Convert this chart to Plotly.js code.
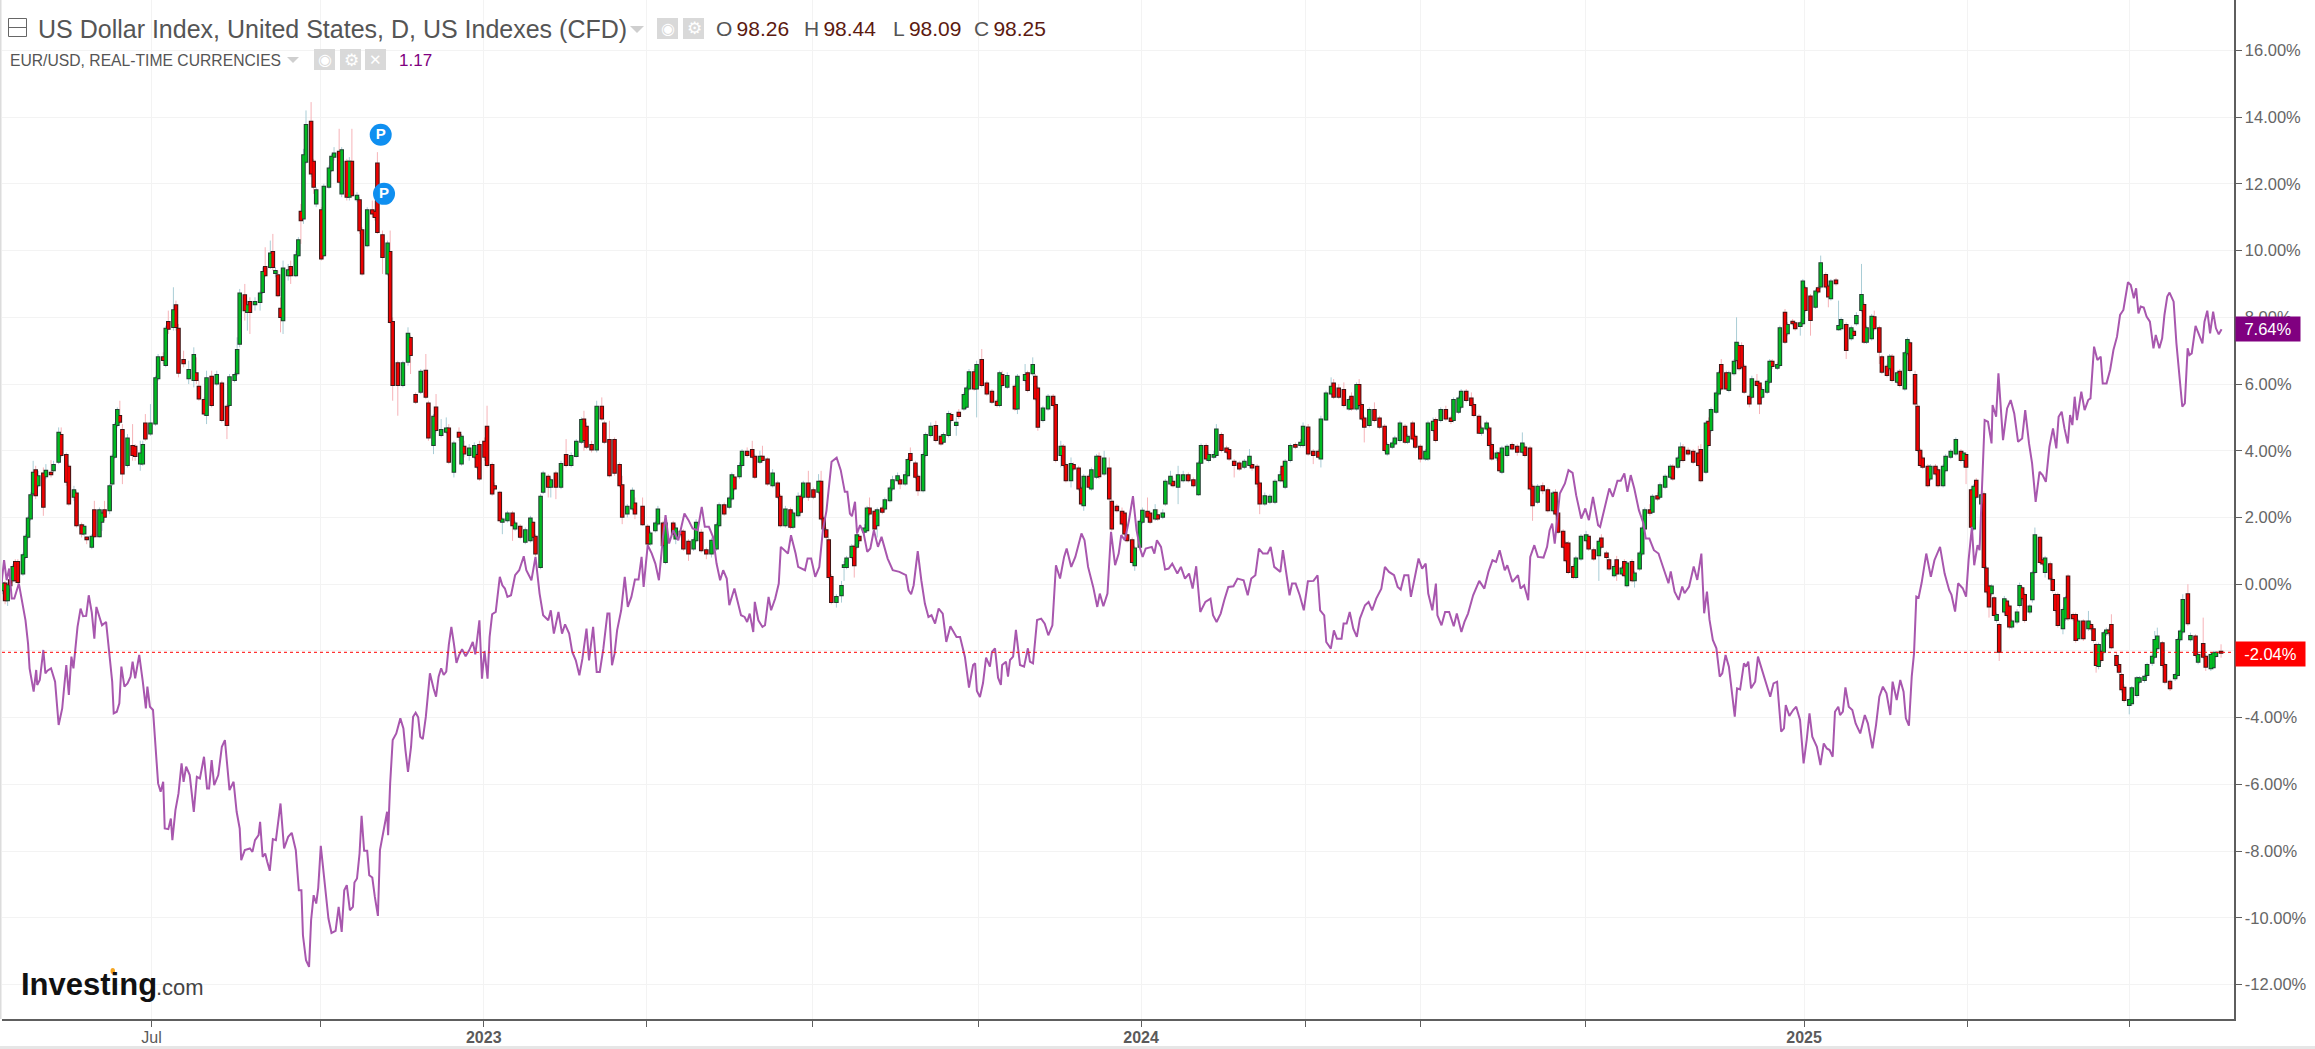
<!DOCTYPE html>
<html><head><meta charset="utf-8">
<script src="https://cdn.plot.ly/plotly-3.0.1.min.js"></script>
<style>html,body{margin:0;padding:0;background:#e6e6e6;}#chart{width:2315px;height:1049px;background:#fff;}</style>
</head><body><div id="chart"></div>
<script>
// Rows: [session, open, close, high, low] in percent change
const candles2022 = [
[1,-.18,.02,.2,-.3],[2,.02,-.48,.1,-.6],[3,-.48,-.03,.05,-.65],[4,.12,-.03,.2,-.1],[5,.12,.52,.6,.05],[6,.67,.12,.75,.05],[7,.67,.07,.75,0],[9,.32,.87,.95,.25],[10,.82,1.42,1.5,.75],[11,1.42,1.97,2.05,1.35],
[12,1.97,2.67,2.75,1.9],[13,2.72,3.34,3.7,2.65],[14,3.42,2.67,3.55,2.55],[15,2.97,3.24,3.4,2.9],[17,3.32,2.32,3.5,2.05],[18,3.24,3.4,3.6,3.15],[20,3.34,3.3,3.72,3.2],[21,3.42,3.57,3.7,3.35],[23,3.67,4.54,4.7,3.6],[24,4.47,3.87,4.7,3.8],
[26,3.87,3.07,3.95,2.95],[27,3.52,2.42,3.6,2.35],[29,2.62,2.82,2.95,2.5],[30,2.72,1.77,2.8,1.7],[32,1.77,1.52,1.85,1.4],[33,1.52,1.72,1.8,1.45],[34,1.4,1.35,1.42,1.2],[36,1.12,1.42,1.5,1.05],[37,2.22,1.44,2.5,1.4],[39,1.44,2.22,2.3,1.4],
[40,1.87,2.12,2.2,1.6],[41,2.22,2.02,2.5,1.9],[43,2.22,2.94,3.0,2.1],[44,3.02,3.82,3.9,2.95],[45,3.82,4.77,4.85,3.75],[46,4.77,5.22,5.3,4.7],[47,5.04,4.87,5.5,4.8],[48,4.62,3.32,4.8,3.0],[50,3.57,4.37,4.5,3.5],[52,4.14,3.87,4.8,3.7],
[53,4.12,3.84,4.2,3.7],[55,3.62,3.92,4.3,3.4],[56,3.62,4.17,4.3,3.55],[57,4.82,4.37,5.1,4.3],[59,4.52,4.82,5.4,4.45],[61,4.82,6.17,6.25,4.75],[62,6.17,6.8,6.9,6.1],[64,6.8,6.72,6.95,6.6],[65,6.57,7.66,7.75,6.5],[66,7.86,7.66,8.2,7.5],
[68,7.71,8.21,8.9,7.6],[69,8.36,7.71,8.5,7.6],[70,7.66,6.34,7.8,6.2],[72,6.72,6.62,7.0,6.5],[74,6.17,6.42,6.7,6.0],[76,6.12,6.87,7.1,5.9],[77,6.32,6.12,6.8,6.0],[78,5.92,5.57,6.1,5.5],[80,5.52,5.12,5.6,5.05],[81,5.07,6.17,6.4,4.8],
[83,6.22,5.37,6.4,5.3],[85,6.02,6.27,6.4,5.95],[87,6.02,4.92,6.1,4.85],[89,5.32,4.77,5.4,4.35],[90,5.37,6.2,6.3,5.3],[92,6.12,6.27,6.35,6.05],[93,6.32,7.02,7.4,6.25],[94,7.21,8.71,8.85,7.1],[96,8.66,8.21,9.0,7.9],[97,8.16,8.36,8.5,7.6],
[98,8.46,8.16,8.6,7.5],[100,8.39,8.46,8.6,8.2],[102,8.46,8.71,8.8,8.2],[103,8.76,9.36,9.5,8.7],[104,9.51,9.26,10.1,9.2],[106,9.51,9.91,10.3,9.45],[107,9.96,9.51,10.5,9.4],[108,9.33,9.39,9.5,9.2],[109,9.26,8.66,9.4,8.6],[110,8.26,8.01,8.6,7.55],
[111,7.91,9.46,9.7,7.5],[113,9.26,9.41,9.6,9.1],[114,9.51,9.26,9.7,9.0],[116,9.26,9.86,10.0,9.2],[117,9.86,10.31,10.4,9.8],[118,11.16,10.91,11.4,10.2],[119,10.96,12.86,13.05,10.8],[120,12.66,13.76,14.2,12.6],[122,13.86,12.31,14.45,12.2],[123,12.66,11.91,12.75,11.7],
[124,11.41,11.81,11.9,11.3],[126,11.21,9.76,11.3,9.7],[127,9.86,11.91,12.0,9.8],[129,11.91,12.46,12.55,11.85],[130,12.41,12.81,12.9,12.35],[131,12.81,12.91,13.1,12.7],[133,12.96,12.06,13.65,12.0],[134,11.71,13.01,13.1,11.6],[136,12.66,11.61,12.75,11.5],[137,11.61,12.66,12.8,11.5],
[138,12.66,11.66,13.65,11.6],[140,11.54,11.64,11.75,11.45],[141,11.51,10.61,11.6,10.5],[142,10.61,9.31,10.7,9.25],[144,10.16,11.21,11.3,10.1],[146,11.21,11.11,11.5,11.0],[147,11.16,11.01,11.5,10.9],[148,12.61,10.56,12.95,10.5],[150,10.46,9.81,10.6,9.3],[152,9.31,10.21,10.3,9.25],
[153,9.96,7.86,10.6,7.8],[154,7.86,5.97,8.0,5.5],[156,6.62,5.97,6.7,5.05],[158,5.97,6.62,6.7,5.9],[160,6.67,7.51,7.7,6.55],[161,7.38,6.87,7.45,6.3],[163,5.67,5.47,5.75,5.4],[165,5.77,6.37,6.45,5.7],[167,6.4,5.62,6.9,5.55],[168,5.42,4.4,5.5,4.3],
[170,4.17,5.02,5.1,3.9],[171,5.3,4.62,5.7,4.55],[173,4.47,4.62,4.95,4.4],[175,4.57,4.67,5.0,4.5],[176,4.67,3.67,4.8,3.6],[178,3.37,4.22,4.3,3.2],[180,4.54,4.42,4.7,4.3],[181,3.62,4.42,4.5,3.55],[182,4.12,3.92,4.3,3.8],[184,3.87,4.07,4.2,3.7],
[186,3.82,4.14,4.25,3.75],[187,3.87,3.52,3.95,3.45],[188,4.17,3.17,4.3,3.1]];
const candles2023 = [
[190,4.27,3.82,4.4,3.7],[191,4.72,3.57,5.35,3.5],[193,3.57,2.72,3.65,2.65],[194,2.94,2.87,3.05,2.8],[196,2.74,1.92,2.8,1.85],[197,1.87,1.94,2.0,1.5],[199,1.92,2.12,2.2,1.85],[201,2.12,1.77,2.2,1.3],[202,1.67,1.82,1.9,1.6],[204,1.72,1.42,1.8,1.35],
[206,1.27,1.62,1.7,1.2],[208,1.32,1.97,2.05,1.25],[209,1.84,1.42,1.9,1.3],[210,1.42,.92,1.5,.85],[212,.52,2.62,2.7,.45],[213,2.77,3.32,3.4,2.7],[215,3.22,2.92,3.3,2.6],[216,2.92,3.12,3.2,2.6],[218,3.32,2.92,3.4,2.55],[220,2.92,3.6,3.7,2.85],
[222,3.87,3.57,4.35,3.5],[224,3.57,3.84,3.95,3.5],[226,3.84,4.27,4.35,3.8],[228,4.27,4.92,5.0,4.2],[229,4.94,4.32,5.2,4.0],[230,4.72,4.12,4.85,4.05],[232,4.17,4.04,4.3,3.95],[234,4.04,5.32,5.5,3.95],[236,5.32,4.97,5.6,4.9],[237,4.82,4.27,4.9,4.2],
[239,4.32,3.27,4.9,3.2],[241,4.32,3.34,4.4,3.25],[243,3.57,2.97,3.65,2.9],[244,2.97,2.02,3.25,1.8],[246,2.12,2.32,2.4,2.0],[248,2.27,2.8,2.9,2.2],[249,2.42,2.12,2.6,1.95],[252,2.32,1.8,2.6,1.75],[254,1.72,1.22,1.8,1.15],[255,1.22,1.52,1.6,1.15],
[257,1.62,1.82,1.9,1.55],[258,1.82,2.24,2.35,1.75],[260,1.82,1.17,1.9,1.1],[261,.67,1.82,2.0,.6],[264,1.82,1.52,1.9,1.4],[265,1.37,1.67,1.8,1.2],[267,1.57,1.5,1.65,1.4],[268,1.57,1.07,1.65,1.0],[270,1.27,.92,1.35,.7],[272,1.07,1.32,1.4,1.0],
[273,1.32,1.84,1.95,1.25],[275,1.54,1.02,1.65,.95],[277,1.02,.92,1.1,.75],[279,.92,1.3,1.4,.8],[281,1.07,1.77,1.85,1.0],[282,1.77,2.37,2.45,1.7],[284,2.37,2.12,2.45,2.05],[286,2.32,2.57,2.65,2.25],[287,2.57,3.27,3.35,2.5],[288,3.2,2.87,3.3,2.8],
[290,3.24,3.54,3.65,3.15],[291,3.57,3.97,4.05,3.5],[293,3.97,3.87,4.1,3.8],[295,4.02,3.82,4.3,3.75],[296,3.82,3.22,3.9,3.15],[298,3.67,3.82,4.0,3.6],[299,3.82,3.72,4.15,3.65],[301,3.74,3.02,3.8,2.95],[303,2.97,3.32,3.45,2.9],[305,3.02,2.62,3.1,2.55],
[306,2.62,1.77,2.7,1.7],[308,1.77,2.24,2.35,1.7],[310,2.22,1.72,2.3,1.65],[311,1.72,2.12,2.2,1.65],[313,2.07,2.62,2.75,2.0],[314,2.62,2.17,2.7,2.1],[315,2.62,3.02,3.1,2.55],[317,3.02,2.62,3.4,2.5],[319,2.82,2.62,2.9,2.55],[321,2.77,3.07,3.3,2.7],
[322,3.07,1.97,3.4,1.9],[323,1.97,1.67,2.05,1.6],[324,1.62,1.42,1.7,1.35],[325,1.32,.22,1.4,.15],[326,.22,-.53,.3,-.6],[328,-.53,-.38,-.3,-.7],[330,-.33,-.05,.1,-.55],[331,.52,.57,.7,.1],[332,.52,.77,.85,.45],[334,.82,1.12,1.2,.75],
[335,1.12,.57,1.2,.2],[336,1.12,1.47,1.55,1.05],[337,1.42,1.32,1.5,1.2],[339,1.57,1.67,1.8,1.5],[340,1.62,2.27,2.35,1.55],[341,2.27,2.12,2.6,2.05],[343,2.17,1.67,2.25,1.6],[344,1.77,2.22,2.3,1.4],[346,2.27,2.17,2.35,2.1],[347,2.27,2.52,2.6,2.2],
[349,2.52,2.87,2.95,2.45],[350,2.87,3.12,3.25,2.8],[352,3.12,3.24,3.35,3.05],[353,3.12,3.02,3.2,2.85],[355,3.02,3.27,3.4,2.95],[356,3.27,3.72,3.8,3.2],[357,3.9,3.72,4.1,3.65],[359,3.62,3.22,3.7,3.15],[360,3.22,2.82,3.3,2.65],[362,2.82,3.87,3.95,2.75],
[363,3.87,4.47,4.55,3.8],[365,4.47,4.72,4.85,4.4],[367,4.74,4.32,4.9,4.25],[369,4.42,4.22,4.5,4.15],[370,4.27,4.47,4.55,4.2],[372,4.47,5.1,5.2,4.4],[373,5.07,4.92,5.15,4.85],[375,4.77,4.84,5.0,4.45],[376,5.14,5.04,5.25,4.95],[378,5.27,5.67,5.75,5.2],
[379,5.32,5.87,5.95,5.25],[380,5.87,6.35,6.45,5.8],[382,6.35,5.87,6.45,5.8],[383,5.87,6.57,6.7,5.0],[385,6.72,5.97,7.05,5.9],[387,6.02,5.72,6.1,5.65],[389,5.77,5.47,5.85,5.4],[391,5.47,5.37,5.55,5.3],[392,5.37,6.32,6.4,5.3],[393,6.27,5.97,6.4,5.9],
[395,5.92,6.24,6.35,5.85],[398,5.92,5.27,6.0,5.2],[399,5.27,6.22,6.3,5.1],[402,6.12,6.27,6.6,6.05],[403,6.32,5.82,6.4,5.75],[405,6.32,6.57,6.8,6.25],[406,6.22,5.57,6.3,5.5],[407,5.87,4.72,5.95,4.6],[409,4.92,5.27,5.35,4.85],[411,5.27,5.62,5.7,5.2],
[413,5.62,5.37,5.7,5.3],[414,5.37,3.72,5.45,3.65],[416,3.87,4.12,4.3,3.5],[417,4.12,3.57,4.2,3.5],[418,3.57,3.12,3.65,3.05],[420,3.12,3.6,3.8,2.9],[421,3.57,3.47,3.65,3.4],[423,3.47,2.87,3.55,2.8],[424,2.87,2.42,2.95,2.35],[425,2.37,3.22,3.3,2.2],
[427,3.22,2.92,3.3,2.85],[428,2.87,3.42,3.5,2.8],[430,3.22,3.82,3.9,3.15],[431,3.82,3.24,3.95,3.15],[433,3.32,3.77,4.0,3.25],[435,3.47,2.57,3.8,2.5],[436,2.47,1.67,2.55,1.6],[438,2.32,2.22,2.4,2.15],[440,2.17,1.82,2.3,1.75],[441,2.12,1.52,2.2,1.45],
[442,1.47,1.32,1.55,1.25],[444,1.32,.67,1.4,.6],[445,.57,1.07,1.15,.4],[447,1.12,1.87,1.95,1.05]];
const candles2024 = [
[448,1.87,2.2,2.3,1.8],[450,2.17,2.02,2.6,1.95],[451,2.12,1.87,2.2,1.8],[453,1.97,2.22,2.4,1.9],[454,2.07,1.97,2.25,1.9],[456,2.02,2.12,2.25,1.95],[457,2.42,3.07,3.15,2.35],[459,3.02,3.22,3.4,2.95],[460,3.07,2.97,3.2,2.9],[462,2.92,3.27,3.55,2.4],
[464,3.12,3.27,3.4,3.05],[466,3.27,3.12,3.35,3.05],[468,3.12,2.97,3.2,2.9],[470,2.7,3.62,3.7,2.65],[471,3.64,4.14,4.22,3.6],[473,4.14,3.77,4.22,3.7],[474,3.72,3.87,3.95,3.65],[476,3.82,3.87,4.0,3.75],[477,3.87,4.64,4.8,3.8],[479,4.47,4.02,4.55,3.95],
[481,4.07,3.97,4.15,3.9],[482,4.02,3.77,4.1,3.7],[484,3.67,3.57,3.75,3.2],[486,3.62,3.47,3.7,3.4],[488,3.52,3.67,3.75,3.45],[490,3.57,3.82,4.05,3.5],[491,3.57,3.5,3.65,3.4],[493,3.52,3.02,3.6,2.9],[494,3.02,2.42,3.1,2.1],[496,2.42,2.64,2.75,2.35],
[498,2.47,2.62,2.7,2.4],[500,2.47,3.07,3.15,2.4],[502,3.12,3.27,3.4,3.05],[503,3.52,3.12,3.7,3.05],[504,2.92,3.67,3.75,2.85],[506,3.72,4.14,4.22,3.65],[508,4.17,4.12,4.25,4.05],[510,4.17,4.24,4.35,4.1],[511,4.17,4.72,4.85,4.1],[513,4.7,3.92,4.8,3.85],
[515,3.97,3.87,4.05,3.6],[517,3.97,3.82,4.05,3.75],[518,3.77,4.94,5.05,3.5],[520,4.94,5.72,5.8,4.9],[522,5.72,5.92,6.2,5.65],[523,6.02,5.62,6.15,5.55],[525,5.87,5.62,6.0,5.55],[527,5.82,5.37,6.05,5.3],[529,5.27,5.52,5.6,5.2],[530,5.62,5.27,5.75,5.2],
[532,5.27,5.97,6.05,5.2],[533,5.97,5.37,6.15,5.3],[534,5.37,4.97,5.45,4.9],[535,4.97,4.72,5.05,4.25],[537,4.77,5.22,5.3,4.7],[539,5.22,4.92,5.45,4.85],[541,4.97,4.72,5.05,4.65],[543,4.72,4.02,4.8,3.95],[544,3.92,4.17,4.25,3.85],[546,4.12,4.22,4.3,4.05],
[547,4.22,4.37,4.45,4.15],[549,4.32,4.82,4.9,4.25],[551,4.72,4.27,4.8,4.2],[552,4.27,4.42,4.5,4.2],[554,4.82,4.37,4.9,4.3],[555,4.42,4.12,4.5,4.05],[557,4.12,3.77,4.2,3.65],[559,3.77,3.97,4.05,3.7],[560,3.77,4.82,4.9,3.7],[562,4.62,4.87,5.0,4.55],
[563,4.92,4.32,5.0,4.25],[565,4.92,5.22,5.3,4.85],[567,5.22,4.97,5.35,4.9],[569,4.97,4.89,5.05,4.8],[570,4.92,5.52,5.6,4.85],[572,5.17,5.57,5.65,5.1],[573,5.32,5.77,5.85,5.25],[575,5.77,5.52,5.85,5.45],[577,5.57,5.37,5.75,5.3],[578,5.37,5.07,5.45,5.0],
[580,5.02,4.54,5.1,4.5],[581,4.54,4.67,4.75,4.45],[583,4.67,4.82,4.9,4.6],[584,4.67,4.17,4.75,4.1],[585,4.17,3.77,4.25,3.7],[587,3.8,3.92,4.0,3.7],[588,3.92,3.42,4.0,3.35],[589,3.37,4.07,4.15,3.3],[591,3.87,4.12,4.2,3.8],[593,4.17,4.07,4.25,4.0],
[595,4.12,3.97,4.2,3.85],[597,3.97,4.22,4.55,3.9],[598,4.1,3.87,4.2,3.8],[600,4.07,2.87,4.15,2.8],[601,2.92,2.37,3.0,1.9],[603,2.47,2.92,3.0,2.4],[605,2.94,2.82,3.05,2.7],[607,2.82,2.22,2.9,2.15],[609,2.22,2.72,2.8,2.15],[610,2.74,2.12,2.85,2.05],
[611,2.12,1.57,2.2,1.5],[613,1.57,1.12,1.65,1.05],[614,1.22,.72,1.3,.65],[615,1.22,.37,1.3,.3],[617,.52,.22,.6,.15],[618,.22,.77,.85,.15],[620,.77,1.42,1.5,.7],[622,1.32,1.47,1.6,1.25],[623,1.42,1.07,1.5,1.0],[625,1.02,.77,1.1,.7],
[627,.87,1.27,1.35,.1],[628,1.37,1.12,1.5,1.05],[630,.92,.82,1.0,.75],[631,.72,.47,.8,.4],[633,.27,.52,.6,.2],[634,.72,.32,.85,.1],[636,.32,.47,.55,.25],[637,.67,.27,.75,.2],[638,-.03,.62,.7,-.1],[640,.67,.12,.75,.05],
[641,.12,.32,.4,-.1],[643,.47,.92,1.0,.4],[644,.92,1.67,1.75,.85],[645,1.67,2.22,2.3,1.6],[647,2.22,2.14,2.4,2.05],[648,2.17,2.62,2.7,2.1],[650,2.64,2.57,2.75,2.5],[651,2.62,2.97,3.05,2.55],[653,2.92,3.22,3.3,2.85],[655,3.22,3.52,3.6,3.15],
[656,3.52,3.17,3.6,3.1],[658,3.52,3.77,3.85,3.45],[659,3.72,4.1,4.25,3.65],[660,4.1,3.72,4.2,3.65],[662,4.0,3.92,4.1,3.85],[664,3.97,3.67,4.05,3.6],[666,3.92,3.57,4.15,3.5],[667,4.02,3.12,4.2,3.05],[669,3.37,4.82,4.9,3.3],[670,4.87,4.17,5.0,4.1],
[671,4.62,5.22,5.3,4.55],[673,5.17,5.72,5.8,5.1],[674,5.72,6.32,6.4,5.65],[675,6.57,5.87,6.75,5.8],[677,6.32,5.87,6.4,5.8],[678,5.82,6.32,6.4,5.75],[680,6.32,6.67,6.75,6.25],[681,6.72,7.24,8.0,6.65],[682,7.14,6.47,7.25,6.4],[683,7.14,6.52,7.25,6.45],
[684,6.52,5.77,6.6,5.7],[686,5.62,5.42,5.7,5.3],[687,5.62,6.14,6.25,5.55],[689,6.07,5.97,6.3,5.9],[690,6.02,5.42,6.1,5.1],[691,5.62,5.82,5.9,5.55],[693,5.77,6.07,6.15,5.7],[694,6.07,6.67,6.75,6.0],[695,6.67,6.54,6.75,6.45],[697,6.49,6.57,6.65,6.42],
[698,6.57,7.67,7.75,6.5],[700,8.14,7.27,8.25,7.2],[701,7.52,7.77,7.85,7.45],[703,7.87,7.82,7.95,7.75],[704,7.82,7.67,7.9,7.6],[706,7.74,7.82,7.9,7.45]];
const candles2025 = [
[707,7.82,9.07,9.15,7.75],[708,8.87,8.22,8.95,8.15],[710,8.62,7.92,8.7,7.45],[712,8.32,8.77,8.85,8.25],[713,8.87,8.77,8.95,8.7],[714,8.92,9.62,9.85,8.85],[716,9.27,8.92,9.35,8.85],[717,8.92,8.62,9.0,8.3],[718,8.57,9.07,9.15,8.5],[720,9.1,9.02,9.18,8.95],
[721,7.64,7.74,8.5,7.6],[722,7.67,7.92,8.0,7.6],[724,7.77,7.02,7.85,6.75],[726,7.37,7.67,7.75,7.3],[727,7.57,7.47,7.65,7.4],[728,7.82,8.04,8.15,7.75],[730,8.22,8.67,9.6,8.15],[731,8.37,7.27,8.45,7.2],[732,7.27,7.67,7.75,7.2],[734,7.37,8.02,8.1,7.3],
[735,8.0,7.67,8.2,7.6],[737,7.67,6.97,7.75,6.6],[738,6.8,6.37,6.88,6.3],[740,6.52,6.27,6.6,6.2],[741,6.47,6.82,6.9,6.4],[742,6.82,6.12,6.9,6.05],[744,6.07,6.32,6.4,6.0],[745,6.37,5.97,6.45,5.9],[747,5.87,6.92,7.0,5.8],[748,6.92,7.32,7.4,6.85],
[749,7.22,6.42,7.3,6.35],[751,6.27,5.42,6.4,5.35],[752,5.32,4.02,5.4,3.95],[753,4.0,3.57,4.08,3.5],[754,3.77,3.52,3.85,3.45],[756,3.52,2.97,3.6,2.9],[757,3.17,3.52,3.6,3.1],[759,3.52,3.32,3.6,3.25],[760,3.42,2.97,3.5,2.9],[762,2.97,3.52,3.6,2.9],
[763,3.42,3.82,3.9,3.35],[765,3.82,3.97,4.05,3.75],[767,3.92,4.32,4.4,3.85],[769,3.97,3.72,4.05,3.65],[770,3.72,3.92,4.0,3.5],[771,3.87,3.52,3.95,3.0],[773,2.82,1.72,2.9,1.65],[774,1.67,2.92,3.0,1.6],[775,3.1,2.62,3.18,2.55],[777,2.42,2.67,2.75,2.35],
[778,2.7,.52,2.78,.45],[779,.47,-.22,.55,-.3],[780,-.07,-.67,0,-1.0],[781,-.27,-.07,0,-.35],[782,-.42,-.92,-.35,-1.0],[783,-1.07,-.92,-.85,-1.15],[784,-1.22,-2.02,-1.15,-2.3],[786,-.82,-.45,-.35,-.9],[787,-.52,-.92,-.45,-1.0],[788,-.67,-1.27,-.6,-1.35],
[789,-1.27,-1.12,-1.05,-1.35],[791,-1.12,-.85,-.75,-1.2],[792,-.62,-.05,.05,-.7],[793,-.12,-.42,-.05,-.5],[794,-.32,-1.07,-.25,-1.15],[796,-.82,-.67,-.6,-.9],[797,-.45,.33,.4,-.55],[798,.37,1.47,1.7,.3],[800,1.39,.67,1.45,.6],[801,.72,.62,.8,.55],
[802,.37,.77,.85,.2],[804,.6,.17,.68,.1],[805,.13,-.17,.2,-.25],[806,-.32,-.77,-.25,-.85],[807,-.32,-1.22,-.25,-1.3],[809,-1.32,-.77,-.7,-1.5],[810,-1.02,-.42,-.35,-1.1],[811,.23,-1.02,.3,-1.1],[813,-.92,-1.02,-.85,-1.1],[814,-.92,-1.67,-.85,-1.75],
[815,-1.62,-1.12,-1.05,-1.7],[817,-1.12,-1.62,-1.05,-1.7],[819,-1.32,-1.12,-.8,-1.4],[820,-1.22,-1.32,-1.15,-1.4],[821,-1.35,-1.67,-1.25,-1.75],[822,-1.82,-2.42,-1.75,-2.65],[823,-2.45,-1.82,-1.75,-2.55],[824,-2.02,-2.27,-1.95,-2.35],[825,-2.02,-1.47,-1.4,-2.1],[826,-1.47,-1.39,-1.3,-1.55],
[827,-1.39,-1.45,-1.3,-1.55],[828,-1.22,-1.89,-.9,-1.95],[830,-2.15,-2.42,-2.05,-2.5],[831,-2.42,-2.62,-2.35,-2.7],[832,-2.72,-3.15,-2.65,-3.25],[833,-3.1,-3.47,-3.0,-3.55],[835,-3.62,-3.47,-3.4,-3.9],[836,-3.57,-3.12,-3.05,-3.65],[838,-3.32,-2.82,-2.75,-3.4],[839,-2.92,-2.82,-2.75,-3.0],
[841,-2.87,-2.77,-2.7,-2.95],[842,-2.72,-2.42,-2.35,-2.8],[844,-2.35,-2.17,-2.1,-2.45],[845,-2.17,-1.67,-1.4,-2.25],[846,-1.92,-1.57,-1.3,-2.0],[848,-1.77,-2.42,-1.7,-2.5],[849,-2.42,-2.92,-2.35,-3.0],[851,-2.92,-3.12,-2.85,-3.2],[853,-2.82,-2.72,-2.65,-2.9],[854,-2.72,-1.67,-1.6,-2.8],
[855,-1.65,-1.42,-1.35,-1.72],[856,-1.42,-.47,-.3,-1.5],[858,-.3,-1.17,0,-1.25],[859,-1.65,-1.55,-1.45,-1.72],[861,-1.57,-2.12,-1.5,-2.2],[862,-2.32,-2.12,-2.05,-2.4],[864,-1.79,-2.17,-1.0,-2.25],[865,-2.17,-2.47,-2.1,-2.6],[867,-2.52,-2.12,-2.05,-2.6],[868,-2.49,-2.07,-2.0,-2.55],
[869,-2.15,-2.05,-2.0,-2.2],[871,-2.02,-2.05,-1.8,-2.2]];

// EUR/USD rows: [session, percent change]
const eur2022 = [
[.6,.02],[1.6,.72],[2.6,.12],[3.6,.47],[4.6,-.43],[5.6,-.43],[7.4,.02],[9,-.63],[10,-1.08],[11,-1.78],[11.6,-2.52],[12.4,-2.87],[13.2,-3.22],[14.2,-2.57],[14.6,-3.02],[15.6,-2.87],[17,-1.97],[17.8,-2.67],[18.6,-2.59],[20,-2.52],
[21.6,-2.92],[23,-4.22],[24.4,-3.72],[25,-3.22],[26,-2.42],[27,-3.32],[28,-2.17],[28.8,-2.52],[29.4,-2.08],[30.4,-1.28],[31.6,-.73],[32.6,-.96],[33.8,-.95],[34.8,-.33],[36,-.85],[37,-1.63],[37.8,-.68],[39,-.98],[40,-1.23],[41.6,-1.13],
[42.8,-2.08],[44,-2.92],[44.6,-3.87],[45.8,-3.82],[46.8,-3.57],[47.6,-2.47],[48.8,-3.07],[50,-2.97],[51.2,-2.77],[52,-2.32],[53,-2.82],[54.6,-2.12],[56,-2.92],[57.2,-3.72],[57.8,-3.07],[58.8,-3.67],[60,-3.77],[61,-4.97],[62,-5.97],[63,-6.22],
[64,-5.92],[64.6,-7.32],[66,-7.34],[67,-7.02],[67.6,-7.67],[68.8,-6.77],[70,-6.27],[71.2,-5.37],[72,-5.92],[73,-5.47],[74.4,-5.72],[76,-6.82],[77.2,-5.77],[78.4,-5.82],[80,-5.17],[81.2,-6.12],[82,-6.12],[83,-5.27],[84,-6.02],[85.6,-5.72],
[87,-4.87],[88.2,-4.67],[90,-6.17],[91.6,-5.92],[92.8,-6.82],[94,-7.32],[94.6,-8.27],[96,-7.97],[98,-7.92],[99,-8.02],[100,-7.67],[101.4,-7.52],[102,-7.12],[103,-8.17],[104,-8.07],[104.8,-8.32],[105.8,-8.59],[107,-7.64],[108.2,-7.67],[110,-6.57],
[111.4,-7.92],[113,-7.57],[114.4,-7.45],[116,-7.97],[117.2,-9.17],[118.2,-9.17],[118.8,-10.52],[120,-11.27],[121.2,-11.47],[122,-10.07],[123,-9.32],[124,-9.57],[124.8,-9.1],[125.8,-7.84],[127.2,-8.87],[128.8,-10.02],[130,-10.45],[131.6,-10.39],[132.8,-9.67],[134,-10.42],
[135,-9.17],[136,-9.02],[137.2,-9.77],[138.4,-9.67],[139,-8.94],[140,-8.82],[141,-8.07],[141.8,-6.94],[142.8,-7.99],[144,-7.99],[144.8,-8.72],[146,-8.79],[147,-9.37],[148.2,-9.94],[149,-7.97],[150.4,-7.42],[151.8,-6.82],[152.2,-7.52],[153,-5.97],[154,-4.67],
[155.4,-4.47],[157,-4.02],[158.2,-4.32],[159,-4.97],[160,-5.62],[161.2,-4.87],[162,-3.97],[163,-3.85],[164,-3.99],[164.8,-4.57],[165.8,-4.64],[167,-3.97],[168.6,-2.67],[170,-3.12],[171,-3.37],[172,-2.77],[173,-2.52],[174,-2.72],[175,-2.62],[176,-1.82],
[177,-1.28],[178,-1.78],[179,-2.36],[180,-2.13],[181.2,-1.95],[182.6,-2.16],[184,-1.98],[185.4,-1.73],[186.4,-2.1],[188,-1.08],[189,-2.83],[190,-2],[191.2,-2.83],[192,-1.58],[193,-.9]];
const eur2023 = [
[194.4,-.83],[196,.22],[197,-.03],[198,-.13],[199,-.38],[200.4,-.33],[202,.27],[203.6,.42],[205.4,.84],[206.4,.42],[208.4,.12],[210,.82],[211.6,-.28],[213,-.93],[215,-1.08],[216,-.78],[217.2,-1.48],[219,-.83],[220.4,-1.48],[221.6,-1.2],
[223.2,-1.48],[224.4,-2.03],[225.8,-2.28],[227.2,-2.73],[228.4,-2.23],[230,-1.33],[231,-2.28],[232.6,-1.28],[234,-2.63],[235.2,-2.63],[236.6,-1.93],[238.2,-.88],[239,-.88],[240,-2.43],[241,-2.08],[242,-1.38],[243.6,-.78],[245,.22],[246.2,-.68],[247.6,-.38],
[249,.14],[250.4,.14],[251.6,.82],[252.4,-.08],[254,1.17],[255.6,.92],[257,.62],[258.4,.12],[260,1.42],[261,2.07],[262.4,1.22],[264,1.62],[266,1.32],[268.4,2.12],[270,1.92],[271.6,1.67],[273.6,1.62],[275.2,2.32],[276.4,1.72],[278,1.72],
[279.6,1.42],[281,.62],[282.4,.12],[283.6,.42],[285,.17],[286,-.63],[288,-.13],[289.4,-.58],[290.6,-.93],[292,-.98],[293,-1.13],[294,-.88],[295.4,-1.43],[296,-.53],[297.4,-1.08],[299,-1.28],[300,-1.23],[301.4,-.38],[302.4,-.78],[304,-.43],
[305.4,.02],[306.2,1.12],[309,.92],[310.2,1.47],[312,.92],[313,.52],[315.7,.42],[316.7,.77],[318.1,.77],[319.7,.22],[321.3,.52],[322.7,1.62],[324.1,2.2],[326.1,3.67],[328.1,3.79],[329.7,3.42],[331.3,2.77],[332.3,2.77],[333.3,2.12],[334.1,2.04],
[335.3,2.47],[336.1,1.52],[337.3,1.77],[338.7,1.52],[340.1,.97],[341.3,1.07],[342.7,1.62],[344.3,1.12],[345.7,1.42],[348.1,.77],[350.1,.42],[352.7,.37],[355.3,.27],[356.3,-.18],[357.3,-.3],[358.3,-.03],[359.9,.99],[361.3,.12],[362.7,-.58],[364.1,-.98],
[365.3,-.93],[366.7,-1.18],[368.1,-.73],[369.7,-.88],[371.1,-1.73],[372.7,-1.26],[375.1,-1.58],[376.5,-1.58],[378.4,-2.18],[380,-3.1],[381.6,-2.42],[382.4,-2.37],[383.1,-3.2],[384.3,-3.38],[385.5,-2.96],[386.7,-2.2],[388.2,-2.47],[389,-2.03],[390.2,-1.92],[391.4,-2.8],
[392.5,-3.02],[393,-2.42],[394.5,-2.32],[395.3,-2.77],[396.1,-2.27],[397.3,-2.17],[398.4,-1.37],[400,-2.42],[401.6,-2.47],[403.1,-1.92],[403.9,-2.32],[405.1,-2.37],[406.7,-1.07],[408.3,-1.03],[409.7,-1.18],[411.1,-1.53],[412.7,-1.23],[414.1,.57],[415.7,.17],[417.3,.82],
[418.3,1.07],[420.1,.52],[421.7,.82],[424.1,1.52],[425.3,1.32],[426.7,.52],[428.7,-.08],[430.3,-.68],[431.3,-.28],[432.7,-.66],[434.3,-.28],[435.7,1.57],[437.3,.57],[438.7,.92],[439.7,1.47],[441.1,1.32],[442.7,1.9],[444.3,2.64],[445.7,1.62],[447.1,1.07]];
const eur2024 = [
[448.1,.82],[449.3,1.07],[451.7,1.12],[452.7,.92],[453.7,1.32],[455.3,1.12],[456.9,.44],[458.3,.47],[459.7,.62],[461.7,.32],[463.1,.52],[464.7,.17],[466.3,.32],[467.7,-.13],[469.1,.54],[470.7,-.83],[472.7,-.53],[474.7,-.43],[475.7,-.93],[477.1,-1.13],
[478.7,-.88],[480.1,-.48],[481.7,-.08],[483.7,-.06],[485.3,.17],[487.7,.12],[489.3,-.33],[490.7,.17],[492.3,.27],[493.7,1.07],[495.3,.92],[497.1,.92],[498.3,1.12],[499.7,.52],[502.1,.37],[503.1,1.02],[504.7,.12],[505.7,-.33],[506.7,.02],[508.1,.02],
[509.7,-.33],[511.3,-.78],[512.9,.09],[515.1,.1],[516.7,.27],[517.7,-.78],[519.3,-.93],[520.1,-1.73],[521.9,-1.93],[523.1,-1.38],[524.3,-1.63],[526.1,-1.63],[526.9,-1.18],[528.1,-1.18],[529.3,-.83],[530.7,-1.33],[532.1,-1.58],[533.3,-1.03],[535.3,-.63],[536.7,-.53],
[538.1,-.78],[539.7,-.43],[541.7,-.13],[543.1,.52],[544.7,.37],[546.7,.27],[548.1,-.08],[549.3,-.16],[550.7,.27],[552.3,.27],[553.3,-.38],[554.7,.12],[556.3,.77],[557.7,.47],[559.1,.62],[560.1,-.28],[561.7,-.78],[563.1,.02],[563.7,-.93],[565.3,-1.23],
[566.7,-.83],[568.3,-.83],[570.1,-1.26],[571.3,-.88],[573.1,-1.43],[574.3,-1.13],[575.7,-.88],[577.7,-.33],[580.1,.1],[582.1,-.13],[583.7,.37],[585.3,.72],[586.7,.67],[588.1,1.02],[590.1,.42],[591.1,.57],[593.1,.07],[595.3,.27],[596.3,-.13],[597.7,-.03],
[599.3,-.48],[600.1,.82],[601.7,1.17],[603.1,.82],[605.3,.8],[606.7,1.12],[607.7,1.62],[608.7,1.82],[609.7,1.22],[611.7,2.72],[613.7,3.02],[615.1,3.42],[616.7,3.34],[618.1,2.67],[620.1,1.97],[621.7,2.27],[623.1,1.92],[624.7,2.62],[626.7,1.77],[627.5,1.72],
[629.3,2.32],[631.1,2.87],[632.5,2.62],[634.3,3.1],[635.6,3.1],[637,3.32],[638.2,2.77],[639.5,3.27],[640.9,2.87],[642.7,2.22],[644.5,1.82],[645.4,1.37],[646.8,1.37],[648.6,1.02],[650.4,.92],[652.5,.47],[654.3,.03],[655.2,.38],[656.7,-.22],[658.3,-.47],
[659.7,-.07],[660.6,-.27],[662.4,-.07],[664.2,.53],[665.6,.13],[667.2,.92],[668.3,-.87],[669.4,-.22],[670.4,-1.07],[671.7,-1.67],[673.1,-1.92],[674.4,-2.77],[675.4,-2.67],[676.7,-2.12],[678,-2.47],[680.3,-3.97],[681.2,-3.12],[682.4,-3.15],[683.9,-2.37],[684.7,-2.47],
[685.6,-2.32],[686.7,-3.12],[688.3,-2.92],[689.4,-2.17],[691,-2.57],[692.8,-3.02],[694.2,-3.37],[695.5,-2.97],[696.9,-2.92],[698.5,-4.42],[699.6,-4.32],[700.3,-3.62],[701.7,-3.95],[703.2,-3.77],[704.4,-3.67],[705.9,-4.07]];
const eur2025 = [
[707.3,-5.37],[708.5,-4.67],[709.6,-3.87],[710.7,-4.57],[712.5,-4.87],[713.9,-5.42],[715.2,-4.77],[716.4,-4.92],[717.5,-4.97],[718.7,-5.17],[719.6,-3.82],[720.9,-3.67],[721.6,-3.92],[722.7,-3.82],[723.7,-3.09],[725,-3.67],[726.4,-3.77],[727.7,-4.17],[729.5,-4.47],[731.3,-3.92],
[732.5,-4.17],[734.3,-4.92],[735.7,-4.22],[737,-3.37],[738.4,-3.07],[739.8,-3.27],[741.3,-3.92],[742.2,-2.92],[743.8,-3.47],[745.2,-2.87],[746.5,-3.22],[747.4,-4.02],[748.6,-4.24],[749.7,-2.77],[750.6,-2.07],[751.5,-.37],[752.4,-.4],[753.6,.05],[755.4,.92],[757.2,.22],
[758.6,.72],[760.8,1.12],[762.6,.32],[764.4,-.18],[765.3,-.32],[766.7,-.82],[767.9,.03],[769.7,-.12],[771,-.37],[772,.73],[773.3,1.72],[774.2,.57],[775.5,1.17],[776.3,1.02],[777.4,3.32],[778.3,4.92],[779.6,4.87],[781,4.22],[781.4,5.37],[782.8,5.02],
[783.7,6.32],[785.5,4.32],[787.1,5.27],[788.5,5.52],[789.9,5.12],[791.4,4.27],[793,4.37],[794.2,5.22],[795.7,4.22],[796.9,3.62],[798.3,2.47],[799.8,3.37],[801,3.27],[802.3,3.07],[803.7,4.12],[805.1,4.67],[806.4,4.07],[807.3,5.02],[808.5,5.17],[809.6,4.67],
[810.9,4.22],[811.8,5.07],[812.7,4.77],[813.6,5.62],[814.5,4.92],[816.2,5.77],[817.5,5.22],[818.9,5.52],[819.8,5.57],[821.2,7.12],[822.5,6.72],[823.8,6.82],[824.6,6.02],[826.1,6.02],[827.5,6.42],[828.8,7.02],[830.2,7.42],[831.4,8.07],[832.7,8.22],[834.5,9.05],
[835.6,8.97],[836.8,8.57],[837.7,8.87],[838.6,8.12],[839.5,8.32],[840.7,8.29],[841.8,8.02],[843.1,7.87],[844.5,7.07],[845.4,7.47],[846.8,7.07],[847.9,7.37],[848.8,8.07],[849.9,8.62],[850.8,8.74],[852.4,8.47],[853.5,7.22],[854.7,6.32],[855.8,5.32],[856.8,5.42],
[857.9,7.07],[858.6,6.87],[859.5,6.92],[861,7.74],[862.2,7.52],[863.7,7.22],[864.5,7.87],[865.6,8.2],[866.7,7.52],[867.9,8.17],[869,7.67],[870.1,7.49],[871.2,7.64]];

const yTickVals = [16,14,12,10,8,6,4,2,0,-2,-4,-6,-8,-10,-12];
const yTickText = ['16.00%','14.00%','12.00%','10.00%','8.00%','6.00%','4.00%','2.00%','0.00%','-2.00%','-4.00%','-6.00%','-8.00%','-10.00%','-12.00%'];
const xTickVals = [59.4,125.5,189.7,253.5,318.8,383.8,447.5,511.8,556.9,621.9,707.5,771.4,835];
const xTickText = ['Jul','','<b>2023</b>','','','','<b>2024</b>','','','','<b>2025</b>','',''];
const pinSessions = [149.3,150.6];
const pinValues = [13.47,11.70];
const lastUsd = -2.04, lastEur = 7.64;

const rows = candles2022.concat(candles2023, candles2024, candles2025);
const eur = eur2022.concat(eur2023, eur2024, eur2025);
const col = (a,i)=>a.map(r=>r[i]);
const S=col(rows,0),O=col(rows,1),C=col(rows,2),H=col(rows,3),L=col(rows,4);
const bodyHigh=O.map((o,i)=>Math.max(o,C[i])), bodyLow=O.map((o,i)=>Math.min(o,C[i]));

const W=2315,HT=1049,ml=2,mr=81,mt=0,mb=30,pw=W-ml-mr,ph=HT-mt-mb;
const px=x=>(x-ml)/pw, py=y=>1-(y-mt)/ph;
const box=(x0,y0,x1,y1,fill,line,extra)=>Object.assign({type:'rect',xref:'paper',yref:'paper',x0:px(x0),x1:px(x1),y0:py(y1),y1:py(y0),fillcolor:fill,line:line||{width:0},layer:'above'},extra||{});
const tri=(x,y,w,h,c)=>({type:'path',xref:'paper',yref:'paper',path:`M ${px(x)} ${py(y)} L ${px(x+w)} ${py(y)} L ${px(x+w/2)} ${py(y+h)} Z`,fillcolor:c,line:{width:0},layer:'above'});
const txt=(x,y,t,size,color,extra)=>Object.assign({xref:'paper',yref:'paper',x:px(x),y:py(y),text:t,showarrow:false,xanchor:'left',yanchor:'middle',borderpad:0,font:{family:'Liberation Sans, Arial, sans-serif',size:size,color:color}},extra||{});

const shapes=[
 {type:'line',xref:'paper',yref:'y',x0:0,x1:1,y0:lastUsd,y1:lastUsd,line:{color:'#ff0000',width:1,dash:'dot'},layer:'above'},
 box(0,0,1.5,1019,'#dcdcdc'),
 box(0,1046,W,1049,'#e6e6e6'),
 box(8.5,18.5,26.5,36.5,'rgba(0,0,0,0)',{color:'#666',width:1}),
 {type:'line',xref:'paper',yref:'paper',x0:px(9),x1:px(26),y0:py(27.5),y1:py(27.5),line:{color:'#666',width:1},layer:'above'},
 tri(630,26,14,7,'#cfcfcf'),
 box(657,18,678,39,'#d9d9d9'),box(683,18,704,39,'#d9d9d9'),
 tri(287,57,12,6,'#cfcfcf'),
 box(314,49,335,70,'#d9d9d9'),box(340,49,361,70,'#d9d9d9'),box(365,49,386,70,'#d9d9d9'),
 {type:'circle',xref:'paper',yref:'paper',x0:px(110.5),x1:px(115),y0:py(974),y1:py(968),fillcolor:'#f5a623',line:{width:0},layer:'above'}
];
const annotations=[
 txt(37,29,'US Dollar Index, United States, D, US Indexes (CFD)',25,'#555'),
 txt(9,60,'EUR/USD, REAL-TIME CURRENCIES',15.7,'#555'),
 txt(398,60,'1.17',17,'#800080'),
 txt(660,28.5,'◉',16,'#fff',{font:{family:'DejaVu Sans',size:16,color:'#fff'}}),
 txt(686,28.5,'⚙',17,'#fff',{font:{family:'DejaVu Sans',size:17,color:'#fff'}}),
 txt(317,59.5,'◉',16,'#fff',{font:{family:'DejaVu Sans',size:16,color:'#fff'}}),
 txt(343,59.5,'⚙',17,'#fff',{font:{family:'DejaVu Sans',size:17,color:'#fff'}}),
 txt(368,59.5,'✕',15,'#fff',{font:{family:'DejaVu Sans',size:15,color:'#fff'}}),
 txt(715,29,'O&#8201;<span style="color:#5c1a10">98.26</span>',21,'#555'),
 txt(803,29,'H&#8201;<span style="color:#5c1a10">98.44</span>',21,'#555'),
 txt(892,29,'L&#8201;<span style="color:#5c1a10">98.09</span>',21,'#555'),
 txt(973,29,'C&#8201;<span style="color:#5c1a10">98.25</span>',21,'#555'),
 txt(20,984,'<b>Investing</b>',31,'#111'),
 txt(155,987,'.com',22,'#444'),
 {xref:'paper',yref:'y',x:px(2235),y:lastEur,text:'7.64%',showarrow:false,xanchor:'left',yanchor:'middle',width:64,height:24,align:'center',bgcolor:'#800080',borderpad:0,font:{family:'Liberation Sans, Arial, sans-serif',size:16.5,color:'#fff'}},
 {xref:'paper',yref:'y',x:px(2235),y:lastUsd-.05,text:'-2.04%',showarrow:false,xanchor:'left',yanchor:'middle',width:69,height:24,align:'center',bgcolor:'#ff0000',borderpad:0,font:{family:'Liberation Sans, Arial, sans-serif',size:16.5,color:'#fff'}}
];

const traces=[
 {type:'candlestick',x:S,open:O,close:C,high:H,low:L,
  increasing:{line:{color:'#a9cdd6',width:1},fillcolor:'rgba(0,0,0,0)'},
  decreasing:{line:{color:'#f6b3b8',width:1},fillcolor:'rgba(0,0,0,0)'},hoverinfo:'skip',showlegend:false,name:'US Dollar Index wicks'},
 {type:'candlestick',x:S,open:O,close:C,high:bodyHigh,low:bodyLow,
  increasing:{line:{color:'#223f30',width:2},fillcolor:'#223f30'},
  decreasing:{line:{color:'#3f1616',width:2},fillcolor:'#3f1616'},hoverinfo:'skip',showlegend:false,name:'US Dollar Index outline'},
 {type:'candlestick',x:S,open:O,close:C,high:bodyHigh,low:bodyLow,
  increasing:{line:{color:'#00bb22',width:0},fillcolor:'#00bb22'},
  decreasing:{line:{color:'#ee0000',width:0},fillcolor:'#ee0000'},hoverinfo:'skip',showlegend:false,name:'US Dollar Index'},
 {type:'scatter',mode:'lines',x:col(eur,0),y:col(eur,1),line:{color:'#a857ae',width:2},hoverinfo:'skip',showlegend:false,name:'EUR/USD'},
 {type:'scatter',mode:'markers+text',x:pinSessions,y:pinValues,text:['<b>P</b>','<b>P</b>'],textposition:'middle center',
  textfont:{family:'Liberation Sans, Arial, sans-serif',size:15,color:'#fff'},marker:{size:22,color:'#0f8ff0'},hoverinfo:'skip',showlegend:false,cliponaxis:false}
];
const layout={
 width:W,height:HT,autosize:false,paper_bgcolor:'#fff',plot_bgcolor:'#fff',showlegend:false,
 margin:{l:ml,r:mr,t:mt,b:mb,pad:0},boxgap:0,boxgroupgap:0,boxmode:'overlay',
 xaxis:{type:'linear',range:[.784,876.08],tickmode:'array',tickvals:xTickVals,ticktext:xTickText,showgrid:true,gridcolor:'#f3f3f3',gridwidth:1,zeroline:false,
  rangeslider:{visible:false},showline:true,linecolor:'#5e5e5e',linewidth:1.5,ticks:'outside',ticklen:6,tickcolor:'#5e5e5e',ticklabelstandoff:-3,
  tickfont:{family:'Liberation Sans, Arial, sans-serif',size:16,color:'#5a5a5a'}},
 yaxis:{type:'linear',side:'right',range:[-13.03,17.51],tickmode:'array',tickvals:yTickVals,ticktext:yTickText,showgrid:true,gridcolor:'#f3f3f3',gridwidth:1,zeroline:false,
  showline:true,linecolor:'#5e5e5e',linewidth:1.5,ticks:'outside',ticklen:6,tickcolor:'#5e5e5e',
  tickfont:{family:'Liberation Sans, Arial, sans-serif',size:16.5,color:'#666'}},
 shapes:shapes,annotations:annotations
};
Plotly.newPlot('chart',traces,layout,{displayModeBar:false,staticPlot:true});
</script></body></html>
